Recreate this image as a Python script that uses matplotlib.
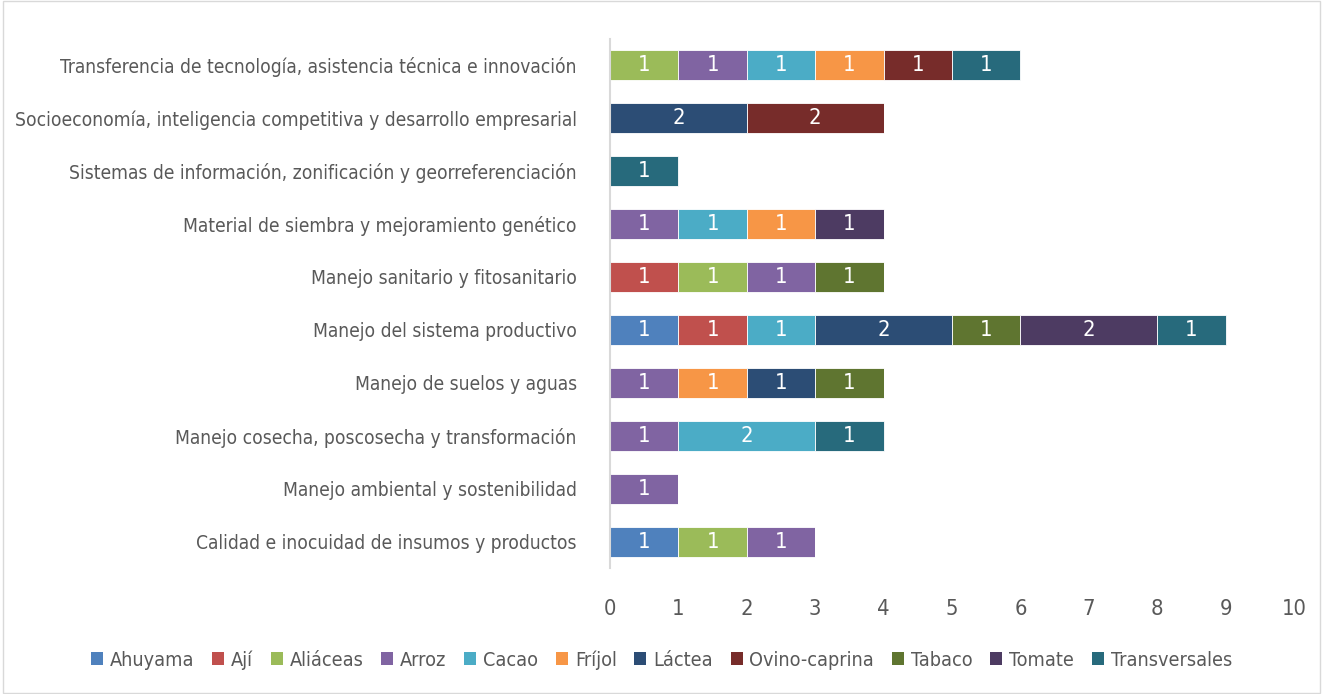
# horizontal stacked bar: líneas temáticas por cadena
import matplotlib;matplotlib.use('Agg')
import matplotlib.pyplot as plt,numpy as np
from matplotlib.patches import Patch
plt.rcParams['font.family']=['DejaVu Sans']
plt.rcParams['font.stretch']='condensed'

categorias=['Calidad e inocuidad de insumos y productos','Manejo ambiental y sostenibilidad',
 'Manejo cosecha, poscosecha y transformación','Manejo de suelos y aguas','Manejo del sistema productivo',
 'Manejo sanitario y fitosanitario','Material de siembra y mejoramiento genético',
 'Sistemas de información, zonificación y georreferenciación',
 'Socioeconomía, inteligencia competitiva y desarrollo empresarial',
 'Transferencia de tecnología, asistencia técnica e innovación']
series=['Ahuyama','Ají','Aliáceas','Arroz','Cacao','Fríjol','Láctea','Ovino-caprina','Tabaco','Tomate','Transversales']
colores=['#4F81BD','#C0504D','#9BBB59','#8064A2','#4BACC6','#F79646','#2C4D75','#772C2A','#5F7530','#4D3B62','#276A7C']
# valores por serie (orden de categorias)
ahuyama      =[1,0,0,0,1,0,0,0,0,0]
aji          =[0,0,0,0,1,1,0,0,0,0]
aliaceas     =[1,0,0,0,0,1,0,0,0,1]
arroz        =[1,1,1,1,0,1,1,0,0,1]
cacao        =[0,0,2,0,1,0,1,0,0,1]
frijol       =[0,0,0,1,0,0,1,0,0,1]
lactea       =[0,0,0,1,2,0,0,0,2,0]
ovino        =[0,0,0,0,0,0,0,0,2,1]
tabaco       =[0,0,0,1,1,1,0,0,0,0]
tomate       =[0,0,0,0,2,0,1,0,0,0]
transversales=[0,0,1,0,1,0,0,1,0,1]
datos=[ahuyama,aji,aliaceas,arroz,cacao,frijol,lactea,ovino,tabaco,tomate,transversales]

gris='#595959'
fig=plt.figure(figsize=(13.23,6.94),dpi=100)
r=fig.canvas.get_renderer()
# ajustar tamaño para que la etiqueta mas larga mida ~563 px
t=fig.text(0,0,categorias[8],fontsize=10);w=t.get_window_extent(r).width;t.remove()
fs=min(19,10*563/w)

ax=fig.add_axes([0.4611,0.181,0.517,0.7635])
y=np.arange(len(categorias));left=np.zeros(len(categorias))
for s,vals,c in zip(series,datos,colores):
    vals=np.array(vals,float)
    ax.barh(y,vals,left=left,height=0.57,color=c,edgecolor='white',linewidth=0.6)
    for yi,(v,l) in enumerate(zip(vals,left)):
        if v>0:ax.text(l+v/2,yi,f'{int(v)}',ha='center',va='center',color='white',fontsize=fs+2)
    left+=vals
ax.set_xlim(0,10);ax.set_ylim(-0.5,len(categorias)-0.5)
ax.set_xticks(range(11));ax.set_yticks(y);ax.set_yticklabels(categorias)
ax.tick_params(axis='y',length=0,labelsize=fs,colors=gris,pad=24)
ax.tick_params(axis='x',length=0,labelsize=fs+2,colors=gris,pad=22)
for sp in ['top','right','bottom']:ax.spines[sp].set_visible(False)
ax.spines['left'].set_color('#D9D9D9');ax.spines['left'].set_linewidth(1.5)
handles=[Patch(facecolor=c,label=s) for s,c in zip(series,colores)]
lfs=fs+4
while True:
    leg=fig.legend(handles=handles,loc='center',bbox_to_anchor=(0.5,0.049),ncol=11,frameon=False,
           fontsize=lfs,labelcolor=gris,handlelength=0.6,handleheight=0.6,handletextpad=0.35,columnspacing=0.9)
    if leg.get_window_extent(r).width<=1175 or lfs<8:break
    leg.remove();lfs-=0.25
fig.patches.append(plt.Rectangle((0.002,0.002),0.996,0.996,transform=fig.transFigure,fill=False,edgecolor='#D9D9D9',lw=1))
fig.savefig('out.png',dpi=100)
